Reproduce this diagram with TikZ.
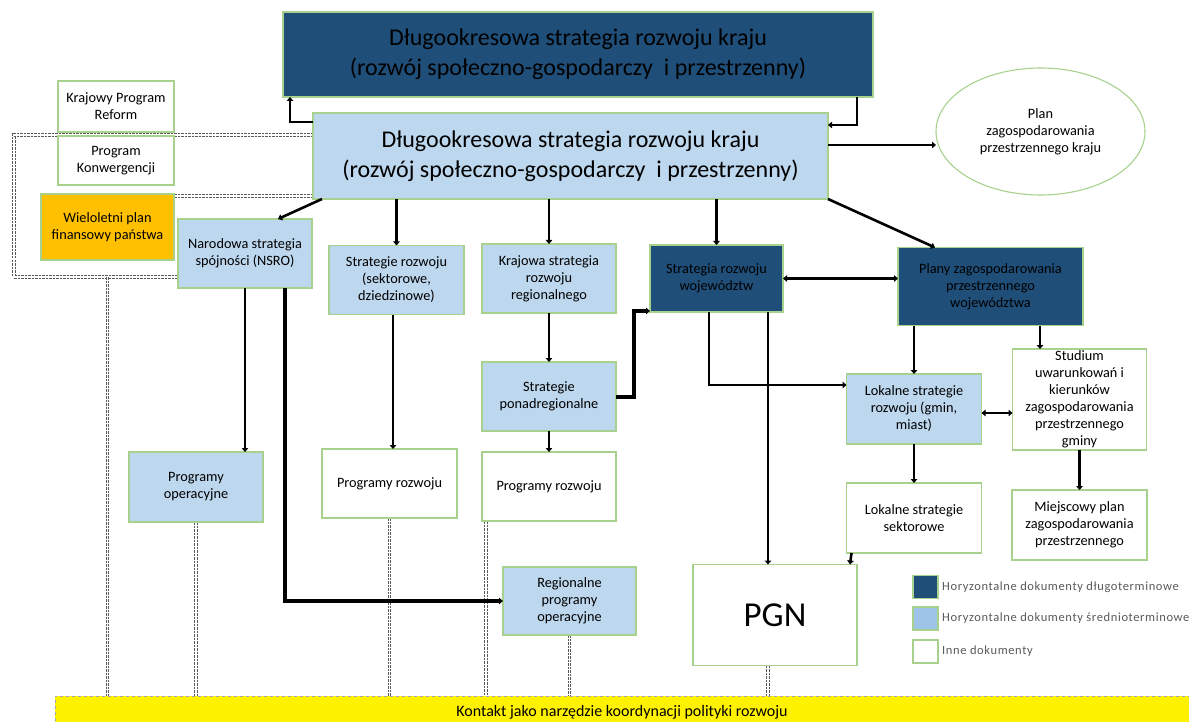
\documentclass[tikz,border=0pt]{standalone}
\usepackage{fontspec}
\setmainfont{Carlito}
\newfontfamily\legendfont[LetterSpace=5]{Carlito}
\usetikzlibrary{positioning, shapes.geometric, arrows.meta, backgrounds}
\definecolor{dlugi}{HTML}{1F4E79}
\definecolor{sredni}{HTML}{BDD7EE}
\definecolor{srednileg}{HTML}{9DC3E6}
\definecolor{ramka}{HTML}{A9D18E}
\definecolor{wpfkolor}{HTML}{FFC000}
\tikzset{
    doc/.style={draw=ramka, line width=1.1pt, align=center, inner sep=1pt, outer sep=0pt, font=\fontsize{14.3}{17}\selectfont},
    docD/.style={doc, fill=dlugi},
    docS/.style={doc, fill=sredni},
    docI/.style={doc, fill=white},
    big/.style={font=\fontsize{24}{30}\selectfont},
    link/.style={line width=2.6pt, -{Triangle[length=4pt,width=6.5pt]}},
    both/.style={line width=2.6pt, {Triangle[length=4pt,width=6.5pt]}-{Triangle[length=4pt,width=6.5pt]}},
    heavy/.style={link, line width=4pt},
    contact/.style={draw=gray!70!black, line width=0.8pt, dash pattern=on 2.5pt off 1pt, double=white, double distance=1.8pt},
    legtext/.style={font=\legendfont\fontsize{12.5}{14}\selectfont, text=gray!70!black, inner sep=0pt},
    node distance=1.5
}
\newcommand{\DSRKtxt}{Długookresowa strategia rozwoju kraju\\(rozwój społeczno-gospodarczy~ i przestrzenny)}

\begin{document}
\begin{tikzpicture}[x=1pt, y=-1pt]
  \useasboundingbox (0,0) rectangle (1189,722);
  \node[docD, big, minimum width=590pt, minimum height=85pt] (dsrkD) at (578,54.5) {\DSRKtxt};
  \node[docS, big, minimum width=515pt, minimum height=86pt] (dsrk) at (570.5,156) {\DSRKtxt};
  \node[docI, minimum width=116pt, minimum height=51pt] (kpr) at (116,106.5) {Krajowy Program\\Reform};
  \node[docI, minimum width=116pt, minimum height=49pt, below=4pt of kpr] (pk) {Program\\Konwergencji};
  \node[doc, fill=wpfkolor, minimum width=133pt, minimum height=66pt] (wpf) at (107.5,227) {Wieloletni plan\\finansowy państwa};
  \node[doc, ellipse, fill=white, minimum width=209pt, minimum height=127pt, inner sep=0pt] (pzpk) at (1040.5,131.5) {Plan\\zagospodarowania\\przestrzennego kraju};

  \node[docS, minimum width=134pt, minimum height=69pt] (nsro) at (245,253.5) {Narodowa strategia\\spójności (NSRO)};
  \node[docS, minimum width=135pt, minimum height=69pt] (srsd) at (396.5,280) {Strategie rozwoju\\(sektorowe,\\dziedzinowe)};
  \node[docS, minimum width=134pt, minimum height=69pt] (ksrr) at (549,278.5) {Krajowa strategia\\rozwoju\\regionalnego};
  \node[docD, minimum width=133pt, minimum height=67pt] (srw) at (716.5,278.5) {Strategia rozwoju\\województw};
  \node[docD, minimum width=185pt, minimum height=78pt] (pzpw) at (990.5,286.5) {Plany zagospodarowania\\przestrzennego\\województwa};
  \node[docS, minimum width=134pt, minimum height=69pt, below=49pt of ksrr] (sp) {Strategie\\ponadregionalne};

  \node[docS, minimum width=134pt, minimum height=70pt] (po) at (196,487) {Programy\\operacyjne};
  \node[docI, minimum width=135pt, minimum height=69pt] (pr1) at (389.5,483.5) {Programy rozwoju};
  \node[docI, minimum width=134pt, minimum height=69pt, below=21pt of sp] (pr2) {Programy rozwoju};
  \node[docS, minimum width=133pt, minimum height=68pt] (rpo) at (569.5,601) {Regionalne\\programy\\operacyjne};

  \node[docS, minimum width=135pt, minimum height=70pt] (lsr) at (914,409) {Lokalne strategie\\rozwoju (gmin,\\miast)};
  \node[docI, minimum width=134pt, minimum height=101pt] (sug) at (1079.5,399.5) {Studium\\uwarunkowań i\\kierunków\\zagospodarowania\\przestrzennego\\gminy};
  \node[docI, minimum width=135pt, minimum height=70pt, below=39pt of lsr] (lss) {Lokalne strategie\\sektorowe};
  \node[docI, minimum width=135pt, minimum height=70pt, below=40pt of sug] (mpzp) {Miejscowy plan\\zagospodarowania\\przestrzennego};
  \node[docI, minimum width=164pt, minimum height=101pt, font=\fontsize{35}{40}\selectfont] (pgn) at (775,615) {PGN};

  \node[docD, minimum width=25pt, minimum height=23pt] (legD) at (925.5,587) {};
  \node[docS, fill=srednileg, minimum width=25pt, minimum height=23pt] (legS) at (925.5,618.5) {};
  \node[docI, minimum width=25pt, minimum height=23pt] (legI) at (925.5,651.5) {};
  \node[legtext, right=4pt of legD] (legDt) {Horyzontalne dokumenty długoterminowe};
  \node[legtext, right=4pt of legS] (legSt) {Horyzontalne dokumenty średnioterminowe};
  \node[legtext, right=4pt of legI] (legIt) {Inne dokumenty};

  \node[draw=gray!70, dashed, fill=yellow, minimum width=1134pt, minimum height=32pt, inner sep=0pt, font=\fontsize{16}{18}\selectfont] (kontakt) at (622,712) {Kontakt jako narzędzie koordynacji polityki rozwoju};

  \coordinate (frameL) at (14,277);
  \coordinate (pr2c) at ([xshift=4pt]pr2.south west);
  \coordinate (pgnc) at ([xshift=-7pt]pgn.south);

  \draw[link] ([yshift=-9pt]dsrk.north west) -| ([xshift=7pt]dsrkD.south west);
  \draw[link] ([xshift=-16pt]dsrkD.south east) |- ([yshift=-12pt]dsrk.north east);
  \draw[heavy] (sp.east) -- ++(18,0) |- ([yshift=1pt]srw.south west);
  \draw[heavy] ([xshift=40pt]nsro.south) |- (rpo.west);
  \draw[link] ([xshift=-7.5pt]srw.south) |- ([yshift=-11pt]lsr.north west);

  \draw
  ([yshift=-32pt]dsrk.north east) edge[link] ([yshift=-13.5pt]pzpk.west)
  (dsrk.south east) edge[link] ([xshift=37pt]pzpw.north west)
  ([xshift=9pt]dsrk.south west) edge[link] ([xshift=-34pt]nsro.north east)
  (dsrk.south -| srsd.north) edge[link] (srsd.north)
  (dsrk.south -| ksrr.north) edge[link] (ksrr.north)
  (dsrk.south -| srw.north) edge[link] (srw.north)
  (srw.east) edge[both] (pzpw.west |- srw.east)
  (ksrr.south) edge[link] (sp.north)
  (nsro.south) edge[link] (nsro.south |- po.north)
  ([xshift=-3.5pt]srsd.south) edge[link] ([xshift=3.5pt]pr1.north)
  (sp.south) edge[link] (sp.south |- pr2.north)
  ([xshift=-15pt]srw.south east) edge[link] ([xshift=-7pt]pgn.north)
  (lsr.north |- pzpw.south) edge[link] (lsr.north)
  ([xshift=-43pt]pzpw.south east) edge[link] ([xshift=-39.5pt]sug.north)
  ([yshift=-4pt]lsr.east) edge[both] ([yshift=-13.5pt]sug.west)
  (lsr.south) edge[link] (lsr.south |- lss.north)
  (sug.south) edge[link] (sug.south |- mpzp.north)
  ([xshift=5pt]lss.south west) edge[link] ([xshift=-7pt]pgn.north east)
  ;

  \begin{scope}[on background layer]
  \draw[contact] ([yshift=-22pt]dsrk.north west) -| (frameL) -- (frameL -| nsro.west);
  \draw[contact] ([yshift=-11pt]pk.south east) -- ([yshift=3pt]dsrk.south west);
  \draw[contact] (wpf.south |- frameL) -- (wpf.south |- kontakt.north);
  \draw[contact] (po.south) -- (po.south |- kontakt.north);
  \draw[contact] (pr1.south) -- (pr1.south |- kontakt.north);
  \draw[contact] (pr2c) -- (pr2c |- kontakt.north);
  \draw[contact] (rpo.south) -- (rpo.south |- kontakt.north);
  \draw[contact] (pgnc) -- (pgnc |- kontakt.north);
  \end{scope}
\end{tikzpicture}
\end{document}
